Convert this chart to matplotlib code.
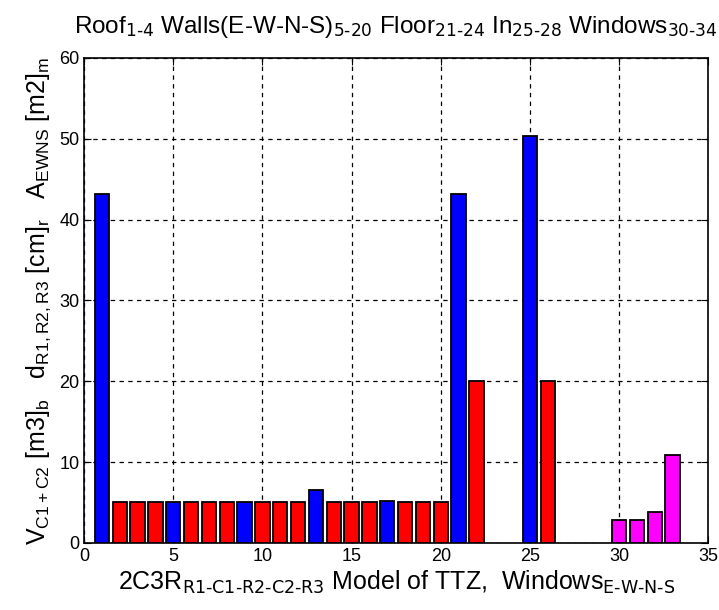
import matplotlib.pyplot as plt

plt.rcParams['font.family'] = ['Liberation Sans', 'DejaVu Sans']
plt.rcParams['mathtext.default'] = 'regular'

# bar data: element index, value, group colour
elements = list(range(1, 23)) + [25, 26, 30, 31, 32, 33]
values = [43.2, 5, 5, 5, 5, 5, 5, 5, 5, 5, 5, 5, 6.6, 5, 5, 5, 5.2, 5, 5, 5,
          43.2, 20, 50.4, 20, 2.8, 2.8, 3.8, 10.9]
groups = ['m', 'r', 'r', 'r', 'b', 'r', 'r', 'r', 'b', 'r', 'r', 'r', 'b', 'r', 'r', 'r',
          'b', 'r', 'r', 'r', 'm', 'r', 'm', 'r', 'w', 'w', 'w', 'w']
colour_map = {'m': '#0000ff', 'b': '#0000ff', 'r': '#ff0000', 'w': '#ff00ff'}
colours = [colour_map[g] for g in groups]

fig = plt.figure(figsize=(7.19, 6.10), dpi=100)
ax = fig.add_axes([0.117, 0.110, 0.868, 0.795])

ax.bar(elements, values, width=0.8, color=colours, edgecolor='black', linewidth=1.3, zorder=3)

ax.set_xlim(0, 35)
ax.set_ylim(0, 60)
ax.set_xticks(range(0, 36, 5))
ax.set_yticks(range(0, 61, 10))
ax.grid(True, linestyle=(0, (3.5, 3.5)), color='black', linewidth=0.9)
ax.tick_params(direction='in', top=True, right=True, labelsize=13, length=5)
for lbl in ax.get_xticklabels() + ax.get_yticklabels():
    lbl.set_family(['Liberation Sans Narrow', 'Liberation Sans'])
for s in ax.spines.values():
    s.set_linewidth(1.2)

ax.set_title(r'Roof$_{\text{1-4}}$ Walls(E-W-N-S)$_{\text{5-20}}$ Floor$_{\text{21-24}}$ '
             r'In$_{\text{25-28}}$ Windows$_{\text{30-34}}$', fontsize=17.5, pad=18)
ax.set_xlabel(r'2C3R$_{\text{R1-C1-R2-C2-R3}}$ Model of TTZ,  Windows$_{\text{E-W-N-S}}$',
              fontsize=18, labelpad=3)
ax.set_ylabel(r'V$_{C1+C2}$ [m3]$_b$   d$_{R1,R2,R3}$ [cm]$_r$   A$_{EWNS}$ [m2]$_m$',
              fontsize=18, labelpad=4)

fig.savefig('out.png', dpi=100)
